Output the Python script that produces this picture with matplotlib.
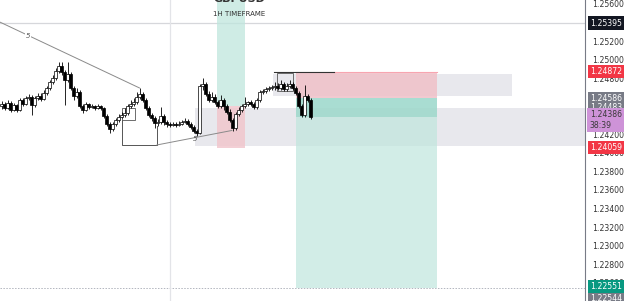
import matplotlib
matplotlib.use("Agg")
import matplotlib.pyplot as plt
import matplotlib.transforms as mtransforms
from matplotlib.patches import Rectangle

# ---------------- data ----------------
closes = [1.24525, 1.24482, 1.24535, 1.24460, 1.24514, 1.24460, 1.24568, 1.24525, 1.24589, 1.24600,
          1.24514, 1.24589, 1.24611, 1.24578, 1.24643, 1.24697, 1.24761, 1.24804, 1.24880, 1.24933,
          1.24869, 1.24783, 1.24847, 1.24697, 1.24611, 1.24654, 1.24503, 1.24460, 1.24525, 1.24492,
          1.24503, 1.24482, 1.24503, 1.24482, 1.24396, 1.24310, 1.24256, 1.24310, 1.24353, 1.24385,
          1.24406, 1.24428, 1.24503, 1.24525, 1.24546, 1.24600, 1.24632, 1.24568, 1.24482, 1.24406,
          1.24374, 1.24320, 1.24331, 1.24396, 1.24331, 1.24310, 1.24299, 1.24310, 1.24299, 1.24310,
          1.24331, 1.24342, 1.24310, 1.24277, 1.24234, 1.24213, 1.24718, 1.24740, 1.24632, 1.24568,
          1.24600, 1.24546, 1.24503, 1.24568, 1.24503, 1.24439, 1.24353, 1.24267, 1.24417, 1.24460,
          1.24503, 1.24525, 1.24546, 1.24525, 1.24492, 1.24568, 1.24654, 1.24665, 1.24686, 1.24697,
          1.24708, 1.24718, 1.24697, 1.24740, 1.24686, 1.24718, 1.24740, 1.24697, 1.24643, 1.24503,
          1.24406, 1.24611, 1.24568, 1.24385]
first_open = 1.24503
opens = [first_open] + closes[:-1]
highs = [1.24557, 1.24546, 1.24568, 1.24557, 1.24535, 1.24525, 1.24589, 1.24589, 1.24611, 1.24632,
         1.24621, 1.24611, 1.24643, 1.24643, 1.24675, 1.24718, 1.24783, 1.24837, 1.24912, 1.24976,
         1.24976, 1.24890, 1.24976, 1.24869, 1.24718, 1.24697, 1.24675, 1.24525, 1.24546, 1.24535,
         1.24525, 1.24514, 1.24525, 1.24514, 1.24492, 1.24417, 1.24331, 1.24331, 1.24374, 1.24417,
         1.24439, 1.24482, 1.24525, 1.24568, 1.24589, 1.24654, 1.24697, 1.24654, 1.24589, 1.24503,
         1.24428, 1.24396, 1.24363, 1.24492, 1.24417, 1.24353, 1.24331, 1.24331, 1.24331, 1.24342,
         1.24353, 1.24374, 1.24363, 1.24331, 1.24299, 1.24256, 1.24740, 1.24804, 1.24761, 1.24665,
         1.24654, 1.24632, 1.24568, 1.24621, 1.24589, 1.24525, 1.24471, 1.24374, 1.24439, 1.24492,
         1.24525, 1.24600, 1.24557, 1.24568, 1.24546, 1.24589, 1.24675, 1.24686, 1.24708, 1.24718,
         1.24729, 1.24761, 1.24751, 1.24783, 1.24761, 1.24751, 1.24783, 1.24761, 1.24718, 1.24665,
         1.24525, 1.24729, 1.24632, 1.24589]
lows = [1.24471, 1.24460, 1.24471, 1.24439, 1.24449, 1.24439, 1.24449, 1.24503, 1.24514, 1.24568,
        1.24406, 1.24492, 1.24568, 1.24557, 1.24568, 1.24621, 1.24675, 1.24740, 1.24783, 1.24858,
        1.24837, 1.24514, 1.24761, 1.24675, 1.24568, 1.24589, 1.24482, 1.24428, 1.24449, 1.24471,
        1.24482, 1.24460, 1.24471, 1.24460, 1.24374, 1.24288, 1.24213, 1.24234, 1.24288, 1.24331,
        1.24374, 1.24385, 1.24406, 1.24482, 1.24503, 1.24525, 1.24578, 1.24546, 1.24460, 1.24385,
        1.24342, 1.24267, 1.24288, 1.24310, 1.24299, 1.24277, 1.24277, 1.24288, 1.24277, 1.24288,
        1.24299, 1.24320, 1.24288, 1.24256, 1.24213, 1.24181, 1.24202, 1.24675, 1.24611, 1.24546,
        1.24546, 1.24525, 1.24482, 1.24482, 1.24460, 1.24417, 1.24331, 1.24234, 1.24245, 1.24396,
        1.24439, 1.24482, 1.24503, 1.24503, 1.24471, 1.24471, 1.24546, 1.24632, 1.24643, 1.24665,
        1.24675, 1.24675, 1.24675, 1.24675, 1.24665, 1.24665, 1.24697, 1.24675, 1.24621, 1.24482,
        1.24385, 1.24385, 1.24546, 1.24363]

# tick labels visible on the price scale (the rest are hidden under price tags)
y_ticks = [1.22600, 1.22800, 1.23000, 1.23200, 1.23400, 1.23600, 1.23800, 1.24000,
           1.24200, 1.24800, 1.25000, 1.25200, 1.25600]

price_line = 1.25395
stop_price = 1.24872
entry_price = 1.24586
target_price = 1.22551
current_price = 1.24386
zone_top = 1.24483
zone_bottom = 1.24075
upper_zone_top = 1.24847
upper_zone_bottom = 1.24611
long_entry = 1.24503
long_stop = 1.24059
swing_low = 1.24084
last_price_tag = 1.22544

# price tags on the axis: (value, text, face, text colour)
axis_labels = [
    (1.25395, "1.25395", "#131722", "white"),
    (1.24872, "1.24872", "#f23645", "white"),
    (1.24586, "1.24586", "#787b86", "white"),
    (1.24483, "1.24483", "#787b86", "white"),
    (1.24059, "1.24059", "#f23645", "white"),
]
countdown = "38:39"

# ---------------- figure ----------------
W, H = 625, 301
fig = plt.figure(figsize=(W / 100, H / 100), dpi=100)
ax = fig.add_axes([0, 0, 585 / W, 1])
ax.set_xlim(-0.5, 194.5)
ax.set_ylim(1.22406, 1.25643)
ax.set_facecolor("white")

idx = list(range(len(closes)))

ax.axhline(price_line, color="#d6d7db", lw=0.9, zorder=1)
ax.axhline(target_price, color="#b2b5be", lw=0.7, ls=(0, (1.5, 1.5)), zorder=1)
ax.axvline(56.2, color="#e3e4e8", lw=0.9, zorder=1)

# gray zones
ax.add_patch(Rectangle((64.5, zone_bottom), 130, zone_top - zone_bottom,
                       facecolor="#e4e5ea", edgecolor="none", alpha=0.85, zorder=1))
ax.add_patch(Rectangle((90.5, upper_zone_bottom), 79.7, upper_zone_top - upper_zone_bottom,
                       facecolor="#e4e5ea", edgecolor="none", alpha=0.85, zorder=1))

# long position (vertical band)
ax.add_patch(Rectangle((71.8, long_entry), 9.4, 1.25643 - long_entry,
                       facecolor="#bfe6dd", edgecolor="none", alpha=0.75, zorder=1.2))
ax.add_patch(Rectangle((71.8, long_stop - 0.0001), 9.4, long_entry - long_stop + 0.0001,
                       facecolor="#f1c4cb", edgecolor="none", alpha=0.8, zorder=1.2))

# short position
ax.add_patch(Rectangle((98.2, entry_price), 47, stop_price - entry_price,
                       facecolor="#f0c0c8", edgecolor="none", alpha=0.85, zorder=1.3))
ax.plot([98.2, 145.2], [stop_price, stop_price], color="#f7a5b0", lw=0.8, zorder=1.4)
ax.add_patch(Rectangle((98.2, target_price), 47, entry_price - target_price,
                       facecolor="#bfe6dd", edgecolor="none", alpha=0.7, zorder=1.3))
ax.add_patch(Rectangle((98.2, current_price), 47, entry_price - current_price,
                       facecolor="#8fd3c4", edgecolor="none", alpha=0.6, zorder=1.35))

# consolidation box
ax.add_patch(Rectangle((91.8, 1.24665), 5.4, 1.24858 - 1.24665,
                       facecolor="none", edgecolor="#555555", lw=0.6, zorder=2))
ax.plot([90.8, 110.8], [stop_price, stop_price], color="#333333", lw=0.8, zorder=2)

# left box structure
ax.add_patch(Rectangle((40.2, 1.24353), 4.3, 1.24482 - 1.24353,
                       facecolor="none", edgecolor="#555555", lw=0.6, zorder=2))
ax.plot([40.2, 40.2, 51.8, 51.8], [1.24353, swing_low, swing_low, 1.24288],
        color="#555555", lw=0.7, zorder=2)

# trend lines
ax.plot([-0.5, 46.0], [1.25405, 1.24697], color="#8a8a8a", lw=0.7, zorder=2)
ax.text(8.8, 1.25256, "5", fontsize=5, color="#555555", style="italic",
        ha="center", va="center", zorder=3,
        bbox=dict(facecolor="white", edgecolor="none", pad=0.3))
ax.plot([51.8, 76.8], [swing_low, 1.24240], color="#8a8a8a", lw=0.7, zorder=2)
ax.text(64.5, 1.24150, "5", fontsize=5, color="#555555", style="italic",
        ha="center", va="center", zorder=3)

# candles
wcol = ["white" if c >= o else "black" for o, c in zip(opens, closes)]
ax.vlines(idx, lows, highs, color="black", lw=0.6, zorder=4)
bottoms = [min(o, c) for o, c in zip(opens, closes)]
heights = [max(abs(c - o), 0.00003) for o, c in zip(opens, closes)]
ax.bar(idx, heights, bottom=bottoms, width=0.85, color=wcol, edgecolor="black",
       linewidth=0.5, zorder=5)

# axes styling
for s in ["top", "left", "bottom"]:
    ax.spines[s].set_visible(False)
ax.spines["right"].set_color("#787b86")
ax.spines["right"].set_linewidth(0.8)
ax.set_xticks([])
ax.yaxis.tick_right()
ax.set_yticks(y_ticks)
ax.set_yticklabels([f"{v:.5f}" for v in y_ticks])
ax.tick_params(axis="y", length=0, pad=5, labelsize=5.6, labelcolor="#333333")

trans = mtransforms.blended_transform_factory(ax.transAxes, ax.transData)
tag_box = dict(edgecolor="none", boxstyle="square,pad=0.28")
for val, txt, face, tc in axis_labels:
    ax.text(1.008, val, txt, transform=trans, fontsize=5.6, color=tc, ha="left",
            va="center", clip_on=False, zorder=10, bbox=dict(facecolor=face, **tag_box))
# bottom tags: last-price tag partly cut at the bottom edge, target tag above it
ax.text(1.008, last_price_tag - 0.00115, f"{last_price_tag:.5f}", transform=trans,
        fontsize=5.6, color="white", ha="left", va="center", clip_on=False, zorder=10,
        bbox=dict(facecolor="#787b86", **tag_box))
ax.text(1.008, target_price + 0.00012, f"{target_price:.5f}", transform=trans,
        fontsize=5.6, color="white", ha="left", va="center", clip_on=False, zorder=11,
        bbox=dict(facecolor="#089981", **tag_box))
ax.text(1.008, current_price - 0.00035, f"{current_price:.5f}\n{countdown}",
        transform=trans, fontsize=5.6, color="#3a3a3a", ha="left", va="center",
        clip_on=False, zorder=10, linespacing=1.25,
        bbox=dict(facecolor="#ce93d8", edgecolor="none", boxstyle="square,pad=0.3"))

# titles (the main title is cut by the top edge in the reference)
fig.text(239 / W, 1 + 1.5 / H, "GBPUSD", fontsize=8, fontweight="bold", color="#333333",
         ha="center", va="center")
fig.text(239 / W, 1 - 14 / H, "1H TIMEFRAME", fontsize=5, color="#333333",
         ha="center", va="center")

fig.savefig("out.png", dpi=100)
